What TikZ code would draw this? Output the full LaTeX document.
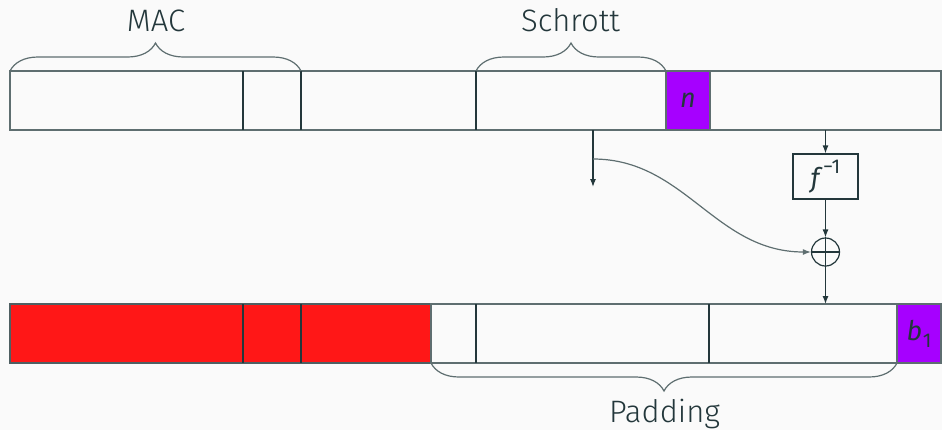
\documentclass[tikz,border=0pt]{standalone}
\usepackage{fontspec}
\setmainfont{Fira Sans}[UprightFont=* Light, ItalicFont=* Light Italic]
\newfontfamily\mfont{Fira Sans}[UprightFont=*, ItalicFont=* Italic]
\usetikzlibrary{decorations.pathreplacing,arrows.meta}
\definecolor{fg}{HTML}{23373B}
\definecolor{bg}{HTML}{FAFAFA}
\definecolor{macred}{HTML}{FF1717}
\definecolor{nviolet}{HTML}{A600FF}
\definecolor{edge}{HTML}{5E6E70}
\begin{document}
\begin{tikzpicture}[x=0.5pt,y=-0.5pt,
  font=\fontsize{15.5}{18}\selectfont, text=fg,
  bar/.style={draw=edge, line width=0.7pt},
  div/.style={draw=fg, line width=0.7pt},
  brc/.style={draw=edge, line width=0.6pt, decorate, decoration={brace, amplitude=14pt}},
  arr/.style={draw=fg, line width=0.6pt, -{Latex[length=4pt,width=3pt]}},
  lbl/.style={anchor=base, inner sep=0},
  mth/.style={font=\mfont\fontsize{13.5}{16}\selectfont\itshape, inner sep=0},
  cell/.style={draw=edge, line width=0.7pt, inner sep=0, minimum height=29.5pt}]
\fill[bg] (0,0) rectangle (942,430);
\useasboundingbox (0,0) rectangle (942,430);

% top bar
\draw[bar] (10,71) rectangle (941,130);
\draw[div] (243,71) -- (243,130);
\draw[div] (301,71) -- (301,130);
\draw[div] (476,71) -- (476,130);
\node[cell, fill=nviolet, minimum width=22pt, mth] (n) at (688,100.5) {n};

% braces and labels on top
\draw[brc] (10,71) -- (301,71);
\draw[brc] (476,71) -- (666,71);
\node[lbl] (mac) at (156,31.7) {MAC};
\node[lbl] (schrott) at (570.5,31.7) {Schrott};

% bottom bar
\draw[draw=fg!80, line width=0.7pt, fill=macred] (10,304) rectangle (431,363);
\draw[div] (243,304) -- (243,363);
\draw[div] (301,304) -- (301,363);
\draw[bar] (431,304) rectangle (897,363);
\draw[div] (476,304) -- (476,363);
\draw[div] (709,304) -- (709,363);
\node[cell, fill=nviolet, minimum width=22pt, mth] (b1) at (919,333.5)
  {b\kern0.3pt\raisebox{-0.5ex}{\upshape\fontsize{10}{12}\selectfont 1}};

% padding brace
\draw[brc] (897,363) -- (431,363);
\node[lbl] (padding) at (664.5,422.5) {Padding};

% operations
\node[draw=fg, line width=0.6pt, minimum width=32.5pt, minimum height=22.5pt, inner sep=0, mth]
  (finv) at (825.5,176.5) {f\kern1.8pt\raisebox{1.0ex}{\upshape\fontsize{10}{12}\selectfont −1}};
\node[circle, draw=fg, line width=0.6pt, minimum size=14pt, inner sep=0] (plus) at (825.5,252) {};
\draw[fg, line width=0.6pt] (plus.north) -- (plus.south) (plus.west) -- (plus.east);

\coordinate (tapR) at (825.5,130);
\coordinate (inB) at (825.5,304);
\coordinate (tapL) at (593,130);
\coordinate (bend) at (593,159);
\coordinate (endL) at (593,187);

\draw[arr] (tapR) -- (finv.north);
\draw[arr] (finv.south) -- (plus.north);
\draw[arr] (plus.south) -- (inB);
\draw[arr] (tapL) -- (endL);
\draw[arr, draw=edge] (bend) .. controls (685,159) and (715,252) .. (plus.west);
\end{tikzpicture}
\end{document}
